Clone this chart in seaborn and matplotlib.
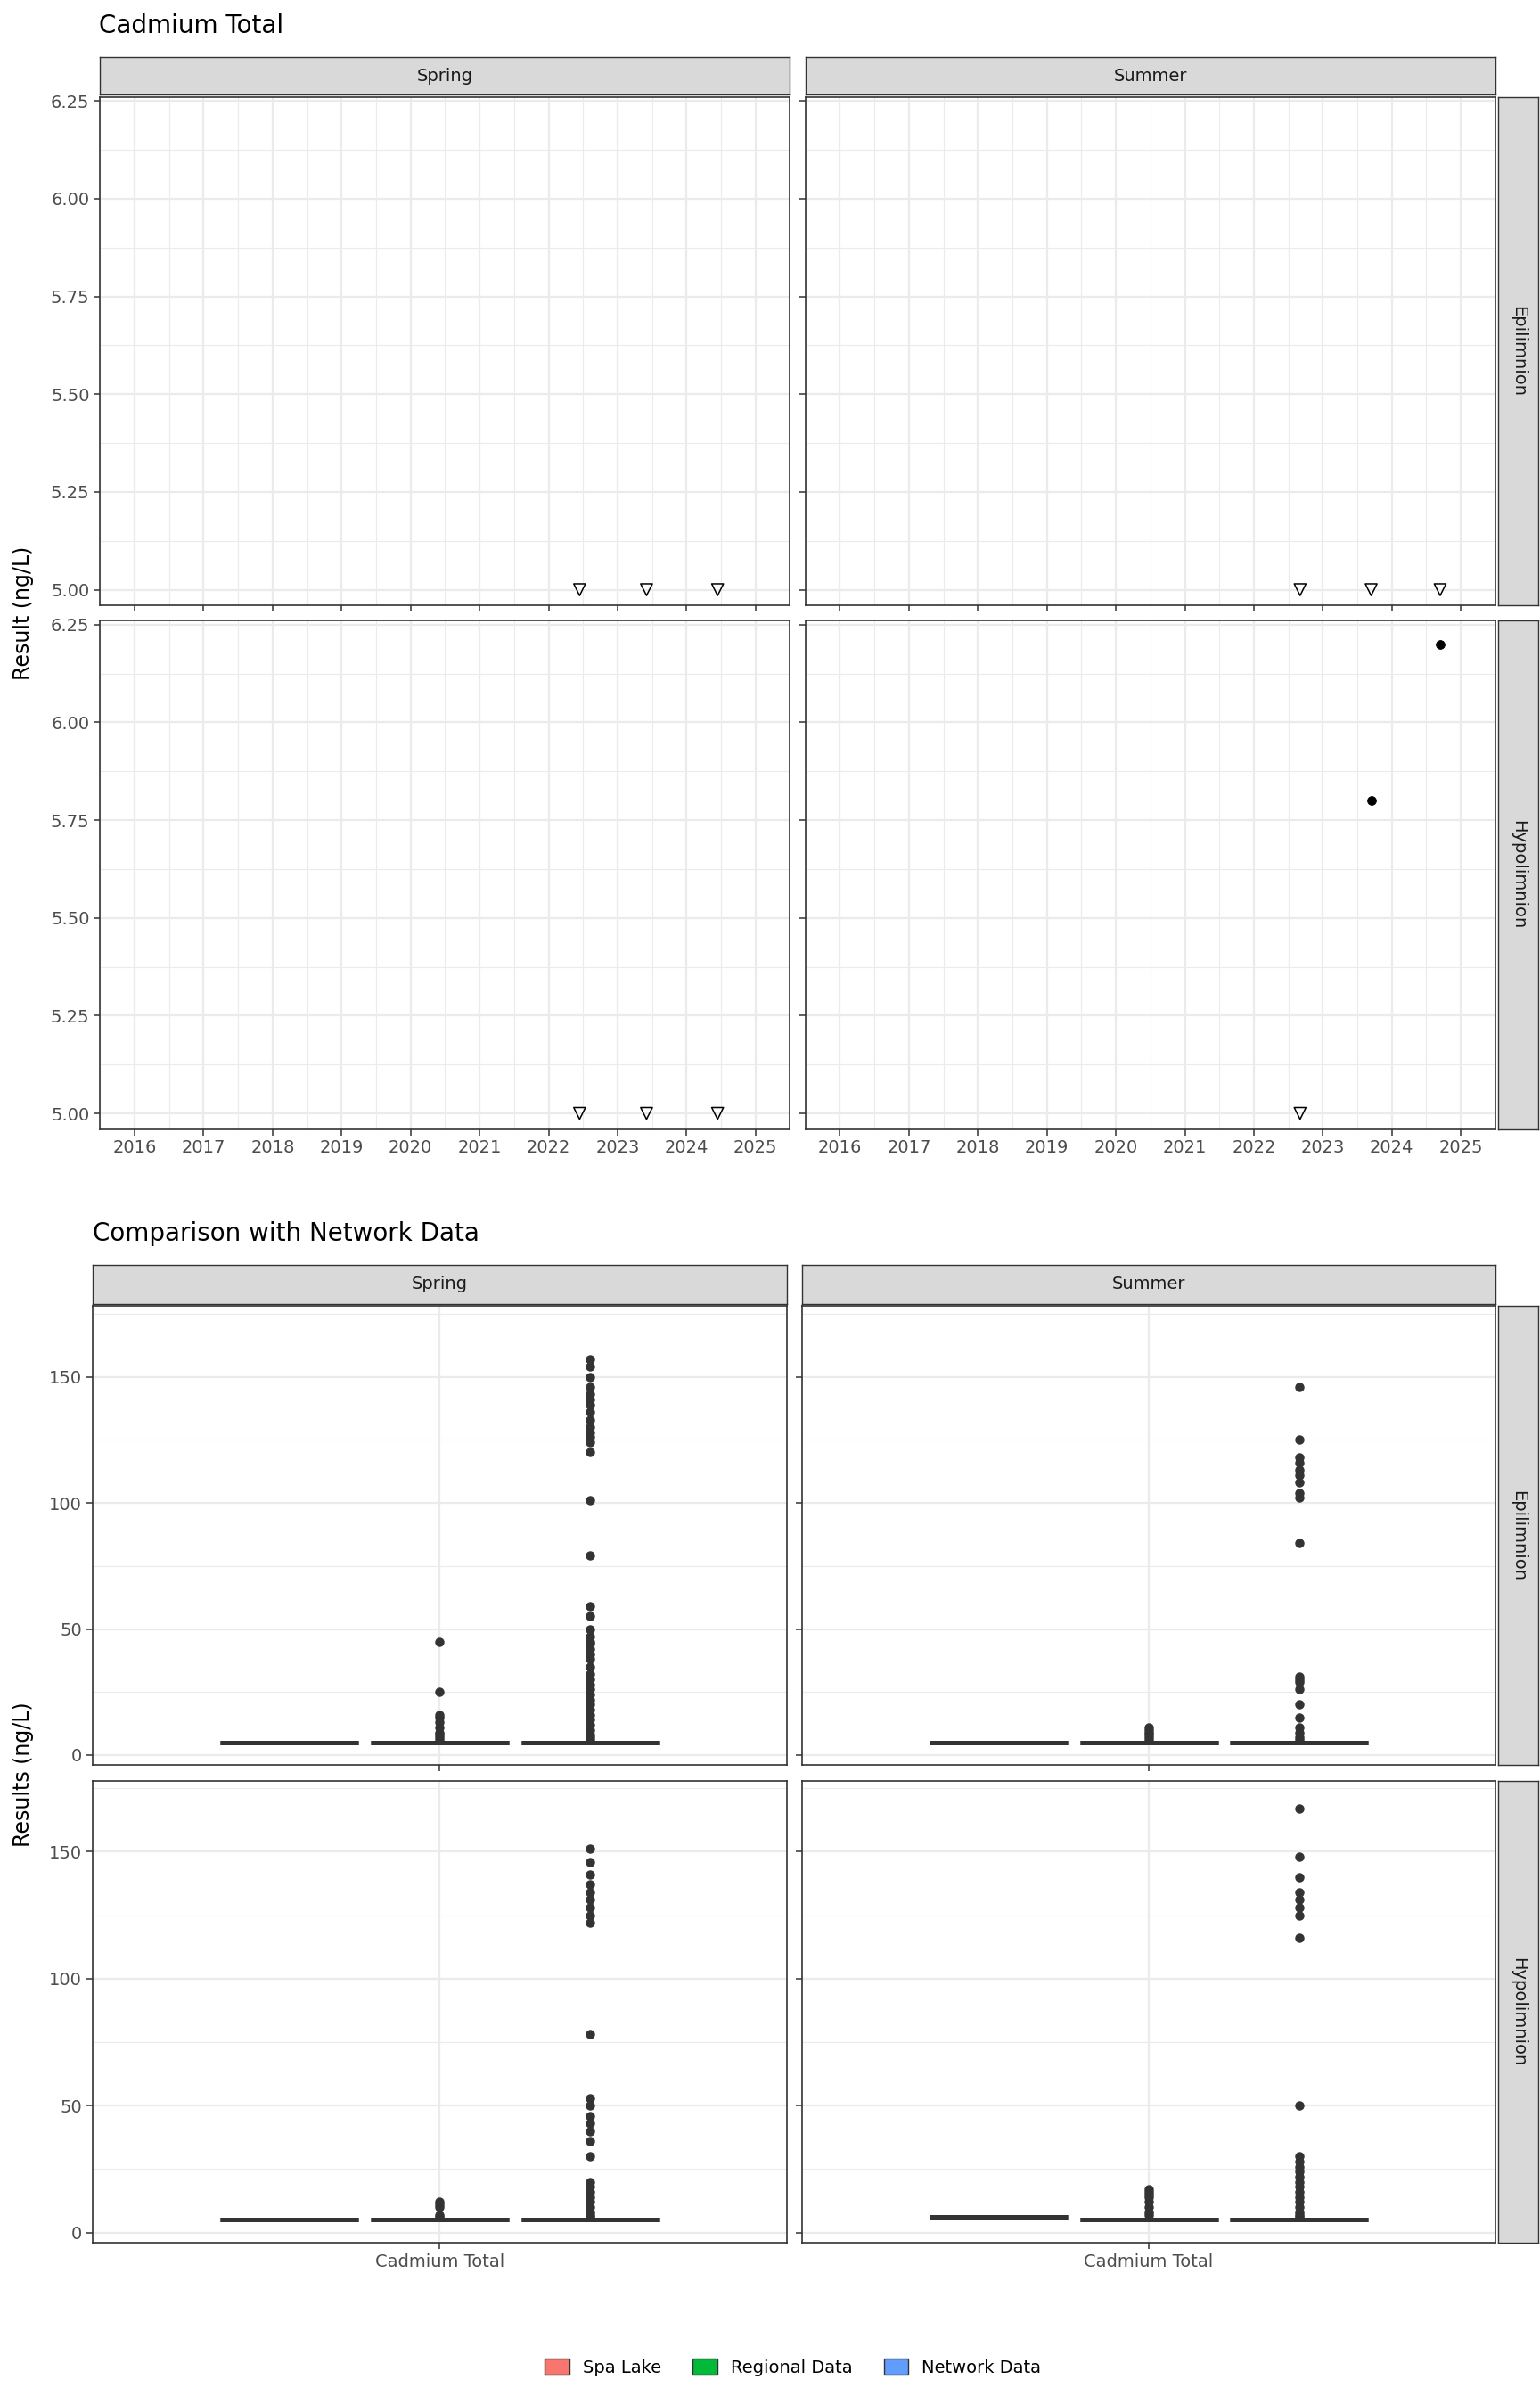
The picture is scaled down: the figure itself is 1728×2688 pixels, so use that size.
import matplotlib
matplotlib.use("Agg")
import matplotlib.pyplot as plt
from matplotlib.patches import Patch
import numpy as np
import pandas as pd
import seaborn as sns

# ---- data ----
seasons = ["Spring", "Summer"]
layers = ["Epilimnion", "Hypolimnion"]
year_ticks = list(range(2016, 2026))

# time series: (date as decimal year, value, censored)
ts_dates = {
    ("Spring", "Epilimnion"): [2022.45, 2023.42, 2024.45],
    ("Summer", "Epilimnion"): [2022.67, 2023.70, 2024.70],
    ("Spring", "Hypolimnion"): [2022.45, 2023.42, 2024.45],
    ("Summer", "Hypolimnion"): [2022.67, 2023.70, 2024.70],
}
ts_values = {
    ("Spring", "Epilimnion"): [5.0, 5.0, 5.0],
    ("Summer", "Epilimnion"): [5.0, 5.0, 5.0],
    ("Spring", "Hypolimnion"): [5.0, 5.0, 5.0],
    ("Summer", "Hypolimnion"): [5.0, 5.8, 6.2],
}
ts_censored = {
    ("Spring", "Epilimnion"): [True, True, True],
    ("Summer", "Epilimnion"): [True, True, True],
    ("Spring", "Hypolimnion"): [True, True, True],
    ("Summer", "Hypolimnion"): [True, False, False],
}

groups = ["Spa Lake", "Regional Data", "Network Data"]
group_colors = ["#F8766D", "#00BA38", "#619CFF"]
base_value = {"Spa Lake": 5.0, "Regional Data": 5.0, "Network Data": 5.0}
base_count = {"Spa Lake": 6, "Regional Data": 80, "Network Data": 400}
hypo_summer_spa = 6.0

outliers = {
    ("Spring", "Epilimnion", "Regional Data"): [45, 25, 16, 15, 13, 11, 9, 8, 7, 6],
    ("Spring", "Epilimnion", "Network Data"): [157, 154, 150, 146, 143, 141, 139, 136, 133, 130, 128, 126,
                                               124, 120, 101, 79, 59, 55, 50, 47, 45, 44, 42, 40, 38, 35,
                                               32, 30, 28, 26, 24, 22, 20, 18, 16, 14, 12, 10, 8, 7, 6],
    ("Summer", "Epilimnion", "Regional Data"): [11, 10, 9, 8, 7, 6],
    ("Summer", "Epilimnion", "Network Data"): [146, 125, 118, 116, 113, 111, 108, 104, 102, 84, 31, 30,
                                               29, 26, 20, 15, 11, 9, 7, 6],
    ("Spring", "Hypolimnion", "Regional Data"): [12, 11, 10, 7, 6],
    ("Spring", "Hypolimnion", "Network Data"): [151, 146, 141, 137, 134, 131, 128, 125, 122, 78, 53, 50,
                                                46, 43, 40, 36, 30, 20, 18, 16, 14, 12, 10, 8, 7, 6],
    ("Summer", "Hypolimnion", "Regional Data"): [17, 16, 15, 14, 12, 10, 8, 7],
    ("Summer", "Hypolimnion", "Network Data"): [167, 148, 140, 134, 131, 128, 125, 116, 50, 30, 28, 26,
                                                24, 22, 20, 18, 16, 14, 12, 10, 8, 7, 6],
}

GRID = "#EBEBEB"
DARK = "#333333"
fig = plt.figure(figsize=(17.28, 26.88), dpi=100)
S = 1.728
H = 2688


def add_ax(x0, y0, x1, y1):
    return fig.add_axes([x0 * S / 1728, 1 - y1 * S / H, (x1 - x0) * S / 1728, (y1 - y0) * S / H])


def style_panel(ax):
    ax.set_facecolor("white")
    for sp in ax.spines.values():
        sp.set_color(DARK)
        sp.set_linewidth(1.2)
    ax.set_axisbelow(True)
    ax.grid(True, which="major", color=GRID, lw=1.6)
    ax.grid(True, which="minor", color=GRID, lw=0.8)
    ax.tick_params(colors=DARK, labelcolor="#4D4D4D", labelsize=14, length=5, width=1.1)
    ax.set_xlabel("")
    ax.set_ylabel("")


def strip(x0, y0, x1, y1, text, rot=0):
    a = add_ax(x0, y0, x1, y1)
    a.set_xticks([]); a.set_yticks([])
    a.set_facecolor("#D9D9D9")
    for sp in a.spines.values():
        sp.set_color(DARK); sp.set_linewidth(1.0)
    a.text(0.5, 0.5, text, ha="center", va="center", rotation=rot, fontsize=14, color="#1A1A1A",
           transform=a.transAxes)


cols = [(65, 513), (523, 971)]
rows_top = [(63, 393), (403, 733)]
rows_bot = [(848, 1146), (1156, 1456)]

# ---- top: time series ----
fig.text(64 * S / 1728, 1 - 17 * S / H, "Cadmium Total", fontsize=20, va="center")
for j, s in enumerate(seasons):
    strip(cols[j][0], 37, cols[j][1], 61.5, s)
for i, l in enumerate(layers):
    strip(973, rows_top[i][0], 999, rows_top[i][1], l, rot=-90)
for i, l in enumerate(layers):
    for j, s in enumerate(seasons):
        ax = add_ax(cols[j][0], rows_top[i][0], cols[j][1], rows_top[i][1])
        d = pd.DataFrame({"date": ts_dates[(s, l)], "value": ts_values[(s, l)],
                          "cens": ts_censored[(s, l)]})
        c = d[d.cens]
        u = d[~d.cens]
        if len(c):
            ax.scatter(c.date, c.value, marker="v", s=90, facecolors="none", edgecolors="black", lw=1.1, zorder=3)
        if len(u):
            sns.scatterplot(data=u, x="date", y="value", ax=ax, color="black", s=50, edgecolor="black", zorder=3)
        ax.set_xlim(2015.6, 2025.35)
        ax.set_ylim(4.96, 6.26)
        ax.set_xticks(year_ticks)
        ax.set_xticks(np.arange(2015.5, 2025.6, 1), minor=True)
        ax.set_yticks([5.0, 5.25, 5.5, 5.75, 6.0, 6.25])
        ax.set_yticks([5.125, 5.375, 5.625, 5.875, 6.125], minor=True)
        ax.tick_params(which="minor", length=0)
        style_panel(ax)
        if j == 0:
            ax.set_yticklabels(["5.00", "5.25", "5.50", "5.75", "6.00", "6.25"])
        else:
            ax.set_yticklabels([])
        if i == 0:
            ax.set_xticklabels([])
fig.text(15 * S / 1728, 1 - 398 * S / H, "Result (ng/L)", rotation=90, fontsize=17, va="center", ha="center")

# ---- bottom: boxplots ----
cols_b = [(60, 511), (521, 971)]
fig.text(60 * S / 1728, 1 - 801 * S / H, "Comparison with Network Data", fontsize=20, va="center")
for j, s in enumerate(seasons):
    strip(cols_b[j][0], 821, cols_b[j][1], 846.5, s)
for i, l in enumerate(layers):
    strip(973, rows_bot[i][0], 999, rows_bot[i][1], l, rot=-90)
for i, l in enumerate(layers):
    for j, s in enumerate(seasons):
        ax = add_ax(cols_b[j][0], rows_bot[i][0], cols_b[j][1], rows_bot[i][1])
        recs = []
        for g in groups:
            bv = hypo_summer_spa if (g == "Spa Lake" and s == "Summer" and l == "Hypolimnion") else base_value[g]
            vals = [bv] * base_count[g] + outliers.get((s, l, g), [])
            recs += [{"param": "Cadmium Total", "group": g, "value": v} for v in vals]
        df = pd.DataFrame(recs)
        sns.boxplot(data=df, x="param", y="value", hue="group", hue_order=groups, palette=group_colors,
                    ax=ax, width=0.78, gap=0.08, linecolor=DARK, linewidth=3.6,
                    flierprops=dict(marker="o", markersize=6.5, markerfacecolor=DARK, markeredgecolor=DARK),
                    legend=False)
        ax.set_xlim(-0.6, 0.6)
        ax.set_ylim(-4, 178)
        ax.set_yticks([0, 50, 100, 150])
        ax.set_yticks([25, 75, 125, 175], minor=True)
        ax.tick_params(which="minor", length=0)
        style_panel(ax)
        ax.grid(False, axis="x", which="minor")
        if j == 1:
            ax.set_yticklabels([])
        if i == 0:
            ax.set_xticklabels([])
fig.text(15 * S / 1728, 1 - 1152 * S / H, "Results (ng/L)", rotation=90, fontsize=17, va="center", ha="center")

handles = [Patch(facecolor=c, edgecolor=DARK, label=g) for g, c in zip(groups, group_colors)]
fig.legend(handles=handles, loc="center", bbox_to_anchor=(515 / 1000, 1 - 1537 * S / H), ncol=3,
           frameon=False, fontsize=14, handlelength=1.4, handleheight=1.0, columnspacing=1.8)

fig.savefig("out.png", dpi=100, facecolor="white")
